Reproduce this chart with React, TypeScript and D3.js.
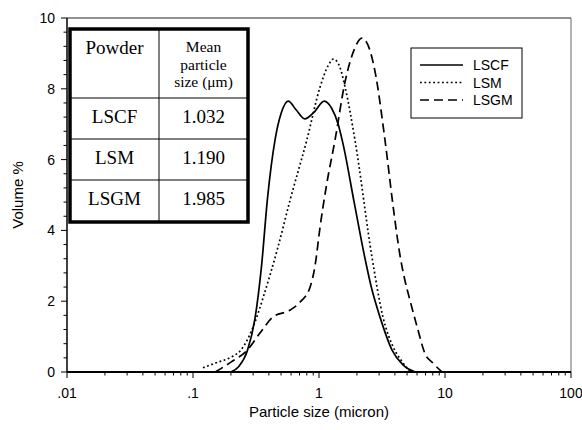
import React from "react";
import * as d3 from "d3";

const lscf: [number, number][] = [
  [0.2, 0], [0.23, 0.15], [0.27, 0.6], [0.31, 1.5], [0.35, 3.0], [0.39, 4.9], [0.45, 6.6],
  [0.5, 7.3], [0.57, 7.65], [0.66, 7.4], [0.77, 7.15], [0.92, 7.35], [1.1, 7.65], [1.26, 7.45],
  [1.42, 7.0], [1.55, 6.45], [1.9, 4.8], [2.32, 3.2], [2.6, 2.4], [3.05, 1.55], [3.8, 0.62],
  [4.64, 0.2], [5.8, 0],
];
const lsm: [number, number][] = [
  [0.12, 0.12], [0.15, 0.25], [0.2, 0.42], [0.24, 0.62], [0.3, 1.27], [0.36, 2.1], [0.47, 3.5],
  [0.59, 4.86], [0.8, 6.55], [1.02, 8.05], [1.18, 8.65], [1.3, 8.84], [1.45, 8.65], [1.61, 8.05],
  [1.93, 6.55], [2.64, 3.22], [3.22, 1.55], [3.89, 0.7], [4.6, 0.28], [5.3, 0],
];
const lsgm: [number, number][] = [
  [0.15, 0], [0.2, 0.28], [0.27, 0.62], [0.34, 1.1], [0.43, 1.55], [0.59, 1.75], [0.71, 1.98],
  [0.85, 2.4], [0.93, 3.0], [1.02, 4.1], [1.15, 5.3], [1.34, 6.55], [1.61, 8.2], [1.9, 9.1],
  [2.19, 9.43], [2.5, 9.15], [2.78, 8.5], [3.34, 6.55], [3.9, 4.6], [4.39, 3.3], [4.8, 2.6],
  [5.27, 2.03], [6.1, 1.19], [6.9, 0.54], [8.04, 0.25], [9.46, 0],
];

const seriesNames = ["LSCF", "LSM", "LSGM"];
const meanSizes = ["1.032", "1.190", "1.985"];
const xTickValues = [0.01, 0.1, 1, 10, 100];
const xTickLabels = [".01", ".1", "1", "10", "100"];
const yTickValues = [0, 2, 4, 6, 8, 10];

const W = 582, H = 430;
const left = 67, right = 571, top = 18, bottom = 372;

export default function App() {
  const x = d3.scaleLog().domain([0.01, 100]).range([left, right]);
  const y = d3.scaleLinear().domain([0, 10]).range([bottom, top]);
  const line = d3
    .line<[number, number]>()
    .x((d) => x(d[0]))
    .y((d) => y(d[1]))
    .curve(d3.curveMonotoneX);

  const minorX: number[] = [];
  for (let e = -2; e < 2; e++) {
    for (let m = 2; m <= 9; m++) minorX.push(m * Math.pow(10, e));
  }
  const minorY: number[] = d3.range(0, 51).map((i) => i * 0.2).filter((_, i) => i % 2 === 0 && i % 10 !== 0);

  const series = [
    { data: lscf, dash: "none" },
    { data: lsm, dash: "1.8 2.6" },
    { data: lsgm, dash: "9 5" },
  ];

  const serif = "'Liberation Serif', 'Times New Roman', serif";
  const sans = "'Liberation Sans', Arial, sans-serif";

  // table geometry
  const tL = 70, tR = 248, tMid = 159;
  const rowsY = [29, 98, 139, 180, 222];

  return (
    <svg width={W} height={H} style={{ position: "absolute", left: 0, top: 0 }} fontFamily={sans}>
      <rect x={0} y={0} width={W} height={H} fill="white" />
      {/* frame top/right */}
      <line x1={left} x2={right} y1={top} y2={top} stroke="#222" strokeWidth={1} />
      <line x1={right} x2={right} y1={top} y2={bottom} stroke="#666" strokeWidth={1} />

      {/* curves */}
      {series.map((s, i) => (
        <path key={i} d={line(s.data) || ""} fill="none" stroke="black" strokeWidth={1.7}
          strokeDasharray={s.dash === "none" ? undefined : s.dash} />
      ))}

      {/* axes */}
      <line x1={left} x2={right} y1={bottom} y2={bottom} stroke="black" strokeWidth={2} />
      <line x1={left} x2={left} y1={top} y2={bottom} stroke="black" strokeWidth={1.5} />
      {xTickValues.map((v, i) => (
        <g key={"xt" + i}>
          <line x1={x(v)} x2={x(v)} y1={bottom} y2={bottom + 6} stroke="black" strokeWidth={1} />
          <text x={x(v)} y={bottom + 26} fontSize={14} textAnchor="middle">{xTickLabels[i]}</text>
        </g>
      ))}
      {minorX.map((v, i) => (
        <line key={"xm" + i} x1={x(v)} x2={x(v)} y1={bottom} y2={bottom + 3.5} stroke="black" strokeWidth={1} />
      ))}
      {yTickValues.map((v, i) => (
        <g key={"yt" + i}>
          <line x1={left - 6} x2={left} y1={y(v)} y2={y(v)} stroke="black" strokeWidth={1} />
          <text x={left - 12} y={y(v) + 5} fontSize={14} textAnchor="end">{v}</text>
        </g>
      ))}
      {minorY.map((v, i) => (
        <line key={"ym" + i} x1={left - 3.5} x2={left} y1={y(v)} y2={y(v)} stroke="black" strokeWidth={1} />
      ))}

      {/* axis titles */}
      <text x={(left + right) / 2} y={417} fontSize={15} textAnchor="middle">Particle size (micron)</text>
      <text transform={`translate(23, ${(top + bottom) / 2}) rotate(-90)`} fontSize={15} textAnchor="middle">Volume %</text>

      {/* table */}
      <rect x={tL} y={rowsY[0]} width={tR - tL} height={rowsY[4] - rowsY[0]} fill="white" stroke="none" />
      {rowsY.slice(1, 4).map((ry, i) => (
        <line key={"tr" + i} x1={tL} x2={tR} y1={ry} y2={ry} stroke="black" strokeWidth={1} />
      ))}
      <line x1={tMid} x2={tMid} y1={rowsY[0]} y2={rowsY[4]} stroke="black" strokeWidth={1} />
      <rect x={tL} y={rowsY[0]} width={tR - tL} height={rowsY[4] - rowsY[0]} fill="none" stroke="black" strokeWidth={3.5} />
      <g fontFamily={serif} textAnchor="middle">
        <text x={(tL + tMid) / 2} y={54} fontSize={19}>Powder</text>
        <text x={(tMid + tR) / 2} y={52} fontSize={15.5}>Mean</text>
        <text x={(tMid + tR) / 2} y={69.5} fontSize={15.5}>particle</text>
        <text x={(tMid + tR) / 2} y={87} fontSize={15.5}>size (μm)</text>
        {seriesNames.map((n, i) => (
          <g key={"row" + i}>
            <text x={(tL + tMid) / 2} y={rowsY[i + 1] + 25} fontSize={19}>{n}</text>
            <text x={(tMid + tR) / 2} y={rowsY[i + 1] + 25} fontSize={19}>{meanSizes[i]}</text>
          </g>
        ))}
      </g>

      {/* legend */}
      <rect x={411} y={48} width={111} height={70} fill="white" stroke="black" strokeWidth={1} />
      {series.map((s, i) => (
        <g key={"lg" + i}>
          <line x1={420} x2={463} y1={65 + i * 17.5} y2={65 + i * 17.5} stroke="black" strokeWidth={1.7}
            strokeDasharray={s.dash === "none" ? undefined : s.dash} />
          <text x={473} y={65 + i * 17.5 + 5} fontSize={14}>{seriesNames[i]}</text>
        </g>
      ))}
    </svg>
  );
}
